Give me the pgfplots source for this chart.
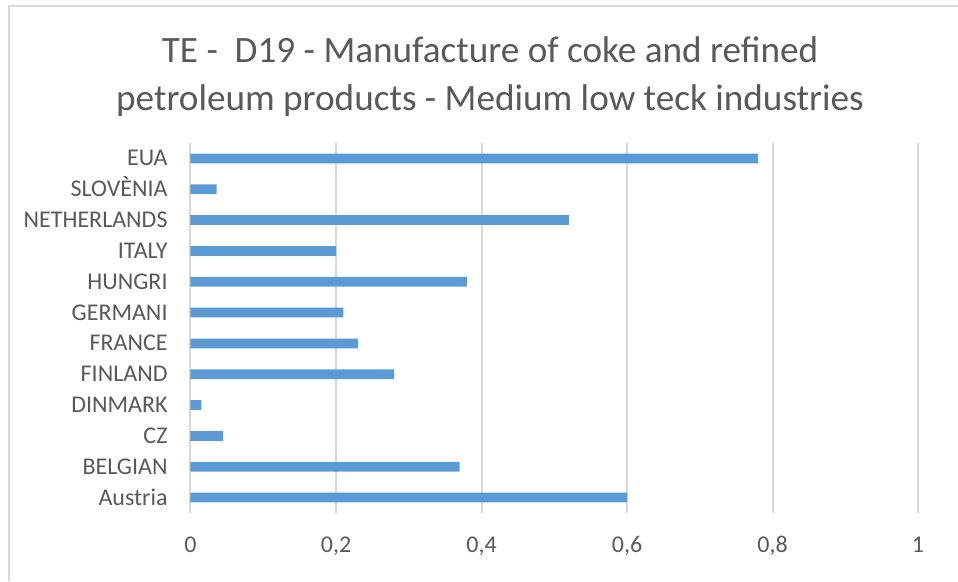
\documentclass[border=0pt]{standalone}
\usepackage{fontspec}
\setmainfont{Carlito}
\usepackage{pgfplots}
\pgfplotsset{compat=1.18}
\definecolor{barblue}{HTML}{5B9BD5}
\definecolor{gridgray}{HTML}{D9D9D9}
\definecolor{txtgray}{HTML}{595959}
\begin{document}
\begin{tikzpicture}[x=1pt,y=1pt]
\useasboundingbox (0,0) rectangle (958,581);
% chart frame (only top and left visible in the screenshot)
\draw[gridgray, line width=2pt] (9.3,0) -- (9.3,575) -- (958,575);
% title
\node[anchor=base, inner sep=0pt, text=txtgray, font=\fontsize{37.2}{48}\selectfont] at (490,518.3) {TE -\ \ D19 - Manufacture of coke and refined};
\node[anchor=base, inner sep=0pt, text=txtgray, font=\fontsize{37.2}{48}\selectfont] at (490,470.3) {petroleum products - Medium low teck industries};
\begin{axis}[
  at={(190.5pt,68pt)}, anchor=south west,
  scale only axis, width=727.5pt, height=370pt,
  xbar, bar width=9.7pt,
  xmin=0, xmax=1, ymin=-0.5, ymax=11.5,
  xtick={0,0.2,0.4,0.6,0.8,1},
  ytick=data,
  yticklabels={Austria,BELGIAN,CZ,DINMARK,FINLAND,FRANCE,GERMANI,HUNGRI,ITALY,NETHERLANDS,SLOVÈNIA,EUA},
  xmajorgrids, major grid style={gridgray, line width=2pt},
  axis line style={draw=none}, tick style={draw=none},
  /pgf/number format/assume math mode=true,
  /pgf/number format/use comma,
  ticklabel style={font=\fontsize{24}{28}\selectfont, text=txtgray, inner sep=0pt},
  yticklabel style={anchor=base east, xshift=-18.5pt, yshift=-7.5pt},
  xticklabel style={anchor=base, yshift=-39pt},
]
\addplot[fill=barblue, draw=none] coordinates {
  (0.600,0) (0.370,1) (0.045,2) (0.015,3) (0.280,4) (0.230,5)
  (0.210,6) (0.380,7) (0.200,8) (0.520,9) (0.036,10) (0.780,11)
};
\end{axis}
\end{tikzpicture}
\end{document}
